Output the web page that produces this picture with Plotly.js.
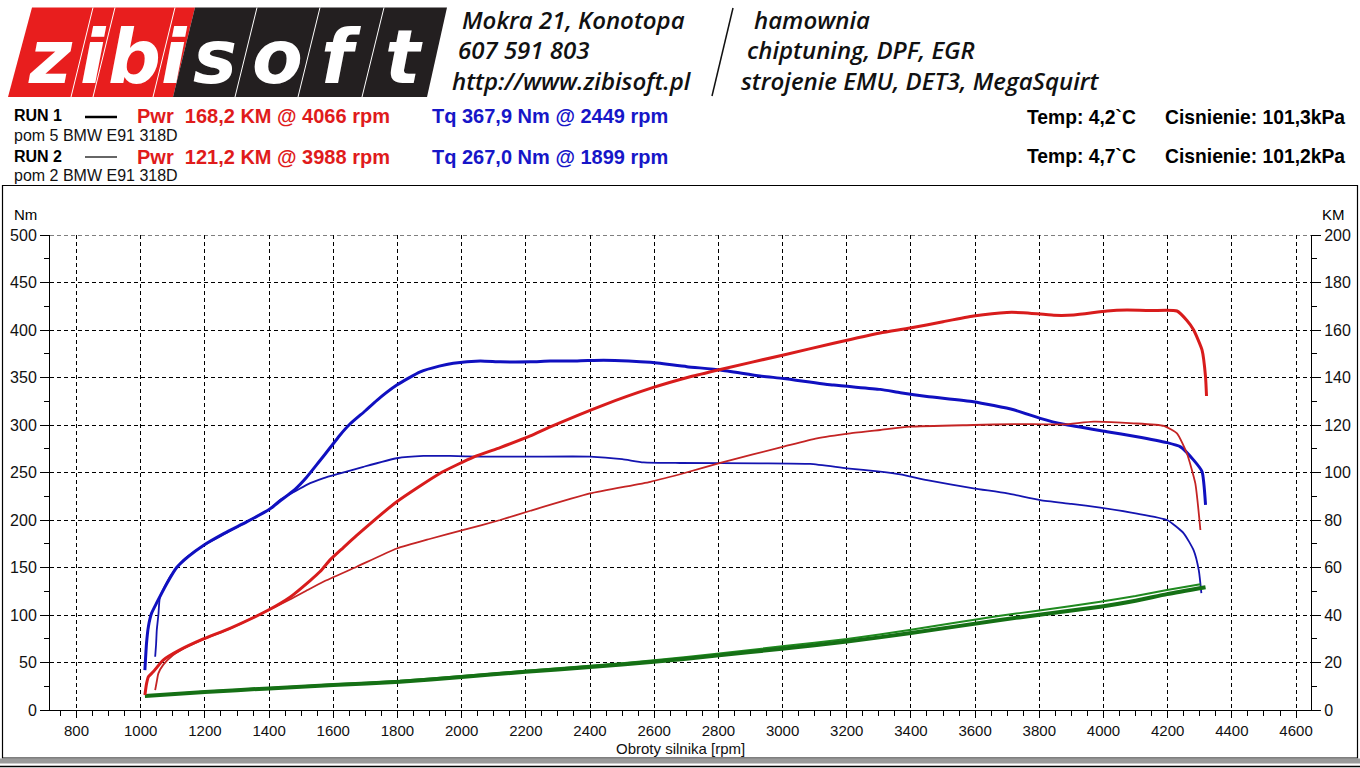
<!DOCTYPE html>
<html><head><meta charset="utf-8">
<script src="https://cdn.plot.ly/plotly-3.0.1.min.js"></script>
<style>html,body{margin:0;padding:0;background:#fff}#chart{width:1360px;height:768px}</style>
</head><body><div id="chart"></div>
<script>
// ---- data ----
const rpmTq1 = [1013,1018,1024,1034,1050,1081,1112,1150,1194,1260,1330,1400,1434,1480,1517,1555,1590,1620,1652,1700,1736,1798,1871,1930,1974,2058,2120,2214,2276,2360,2442,2520,2588,2702,2806,2930,3003,3159,3304,3367,3450,3595,3720,3803,3876,4011,4100,4198,4240,4281,4307,4318];
const tq1 = [42,70,88,102,113,133,150,162,173,186,198,211,220,232,245,261,276,289,301,315,326,342,356,362,365,367.4,366.5,366.5,367.4,367.5,368.2,367.5,366,361.4,358,351.6,349,342,337.5,334,330,324.5,316,307,300.7,293,288,281.4,277,263,251,216];

const rpmTq2 = [1045,1048,1050,1055,1060,1091,1133,1195,1260,1330,1400,1434,1480,1517,1570,1621,1694,1798,1881,1964,2058,2214,2400,2500,2567,2680,2930,3086,3200,3304,3367,3450,3595,3700,3803,3900,3990,4100,4198,4250,4281,4297,4305];
const tq2 = [56,70,84,100,119,140,158,173,185,198,211,221,230,237,244,249,256,265,267.4,267.4,266.7,266.7,266.7,264,260.7,260,259.7,259,254.4,250.9,248,242,233.4,228,221,217,213,207,200,186,168,147,123];

const rpmPw1 = [1013,1018,1024,1039,1070,1122,1195,1278,1398,1465,1528,1559,1590,1630,1673,1798,1933,2037,2120,2214,2276,2442,2588,2712,2806,3003,3159,3304,3397,3500,3595,3699,3750,3845,3907,4011,4073,4150,4229,4260,4281,4307,4318,4321];
const pw1 = [6.3,11,14,16.1,21,25.3,29.9,34.4,42.1,47.5,54.5,58.3,63.2,68.2,73.5,87.7,99.7,106.5,110.5,115.4,119.2,128.4,135.4,140.3,143.4,149.5,154.4,158.7,160.8,163.5,165.9,167.4,167.3,166.2,166.3,168,168.4,168.2,168,164,160,151.6,140.3,132.2];

const rpmPw2 = [1045,1050,1055,1070,1100,1122,1195,1278,1398,1465,1520,1569,1673,1798,1900,2006,2120,2214,2400,2588,2700,2806,3003,3107,3211,3304,3397,3595,3720,3876,3969,4094,4188,4229,4260,4286,4302];
const pw2 = [8.4,12,15.4,19,23,25,29.7,34.2,42,46.5,50.5,54,60.3,68,72,75.8,80,83.9,91.2,96.1,100,104.1,110.9,114.4,116.5,117.9,119.3,120,120.4,120.3,121.4,120.7,119.6,116.5,108,95.5,75.8];

const rpmLoss1 = [1013,1200,1400,1600,1808,2000,2199,2400,2599,2802,2998,3201,3400,3678,3800,3990,4100,4198,4318];
const loss1 = [5.9,7.6,9.1,10.5,11.9,13.9,16.1,18.1,20.3,23.0,25.8,28.8,32.4,37.9,40.1,43.5,46.0,48.8,51.7];
const rpmLoss2 = [1045,1200,1400,1600,1808,2000,2199,2400,2599,2802,2998,3201,3400,3678,3800,3990,4100,4198,4302];
const loss2 = [6.2,7.8,9.3,10.8,12.3,14.3,16.5,18.6,20.9,23.8,26.8,29.9,33.8,39.7,41.9,45.6,48.0,50.5,52.9];

const xTickStep = 200, yNmStep = 50, yKmStep = 20;
const run1Title = 'RUN 1', run2Title = 'RUN 2';
const run1Car = 'pom 5 BMW E91 318D', run2Car = 'pom 2 BMW E91 318D';
const run1Pwr = 'Pwr\u00a0 168,2 KM @ 4066 rpm', run2Pwr = 'Pwr\u00a0 121,2 KM @ 3988 rpm';
const run1Tq = 'Tq 367,9 Nm @ 2449 rpm', run2Tq = 'Tq 267,0 Nm @ 1899 rpm';
const run1Env = ['Temp: 4,2`C', 'Cisnienie: 101,3kPa'];
const run2Env = ['Temp: 4,7`C', 'Cisnienie: 101,2kPa'];
const logoLetters = ['z','i','b','i','s','o','f','t'];
const addrLines = ['Mokra 21, Konotopa', '607 591 803', 'http://www.zibisoft.pl'];
const serviceLines = ['hamownia', 'chiptuning, DPF, EGR', 'strojenie EMU, DET3, MegaSquirt'];

// ---- layout helpers (pixel -> paper) ----
const ML = 50, MR = 49, MT = 235, MB = 58, FW = 1360, FH = 768;
const PW = FW - ML - MR, PH = FH - MT - MB;
const px = x => (x - ML) / PW;
const py = y => (FH - MB - y) / PH;

const AR = 'Liberation Sans, Arial, sans-serif';
const RED = '#e01b1b', BLUE = '#1616c8';

const traces = [
  {x: rpmLoss2, y: loss2, yaxis: 'y2', mode: 'lines', line: {color: '#1f8a1f', width: 2, shape: 'spline', smoothing: 0.6}, hoverinfo: 'skip'},
  {x: rpmLoss1, y: loss1, yaxis: 'y2', mode: 'lines', line: {color: '#157015', width: 4, shape: 'spline', smoothing: 0.6}, hoverinfo: 'skip'},
  {x: rpmTq2, y: tq2, yaxis: 'y', mode: 'lines', line: {color: '#1414b0', width: 1.8, shape: 'spline', smoothing: 0.5}},
  {x: rpmPw2, y: pw2, yaxis: 'y2', mode: 'lines', line: {color: '#c42424', width: 1.8, shape: 'spline', smoothing: 0.5}},
  {x: rpmTq1, y: tq1, yaxis: 'y', mode: 'lines', line: {color: '#1010c0', width: 3, shape: 'spline', smoothing: 0.5}},
  {x: rpmPw1, y: pw1, yaxis: 'y2', mode: 'lines', line: {color: '#d81c1c', width: 3, shape: 'spline', smoothing: 0.5}}
];

const shapes = [];
const ann = [];
function pathPx(pts) {
  return 'M ' + pts.map(p => px(p[0]) + ',' + py(p[1])).join(' L ') + ' Z';
}
function linePx(x0, y0, x1, y1, color, width) {
  shapes.push({type: 'line', xref: 'paper', yref: 'paper', x0: px(x0), y0: py(y0), x1: px(x1), y1: py(y1), line: {color: color, width: width}});
}
function textPx(t, x, y, font, anchor) {
  ann.push({text: t, xref: 'paper', yref: 'paper', x: px(x), y: py(y), xanchor: anchor || 'left', yanchor: 'middle', showarrow: false, font: font});
}

// logo blocks
shapes.push({type: 'path', xref: 'paper', yref: 'paper', path: pathPx([[32,7.5],[195,7.5],[173,97],[8,97]]), fillcolor: '#e81e1e', line: {width: 0}});
shapes.push({type: 'path', xref: 'paper', yref: 'paper', path: pathPx([[195,7.5],[447,7.5],[427,97],[173,97]]), fillcolor: '#231f20', line: {width: 0}});
[93,115,175,257,320,384].forEach(t => linePx(t, 7.5, t - 22, 97, '#ffffff', 1));
const cellCenters = [50, 93, 134, 174, 215, 277, 341, 404];
logoLetters.forEach((l, i) => textPx(l, cellCenters[i], 57, {family: 'DejaVu Sans', size: 74, color: '#ffffff', weight: 700, style: 'italic'}, 'center'));

// header texts
const hf = {family: 'Open Sans, DejaVu Sans', size: 24, color: '#111', weight: 600, style: 'italic'};
textPx(addrLines[0], 460, 20, hf); textPx(addrLines[1], 456, 50, hf); textPx(addrLines[2], 450, 81, hf);
textPx(serviceLines[0], 752, 20, hf); textPx(serviceLines[1], 745, 50, hf); textPx(serviceLines[2], 739, 81, hf);
linePx(733, 8, 712, 96, '#111', 1.5);

// run rows
const bf = {family: AR, size: 16, color: '#000', weight: 700};
const nf = {family: AR, size: 16, color: '#111'};
const pf = {family: AR, size: 20, color: RED, weight: 700};
const tf = {family: AR, size: 20, color: BLUE, weight: 700};
textPx(run1Title, 12, 116, bf); linePx(85, 117, 117, 117, '#000', 2.5);
textPx(run1Pwr, 135, 116, pf);
textPx(run1Tq, 430, 116, tf);
textPx(run1Car, 12, 135, nf);
textPx(run2Title, 12, 157, bf); linePx(85, 157, 117, 157, '#000', 1.2);
textPx(run2Pwr, 135, 157, pf);
textPx(run2Tq, 430, 157, tf);
textPx(run2Car, 12, 176, nf);
const ef = {family: AR, size: 19.3, color: '#000', weight: 700};
textPx(run1Env[0], 1025, 117, ef); textPx(run1Env[1], 1163, 117, ef);
textPx(run2Env[0], 1025, 157, ef); textPx(run2Env[1], 1163, 157, ef);

// axis unit labels and x title
textPx('Nm', 12, 214, {family: AR, size: 15, color: '#000'});
textPx('KM', 1320, 214, {family: AR, size: 15, color: '#000'});
textPx('Obroty silnika [rpm]', 680, 748, {family: AR, size: 15, color: '#111'}, 'center');

// frame
shapes.push({type: 'rect', xref: 'paper', yref: 'paper', x0: px(2.5), y0: py(185.5), x1: px(1357.5), y1: py(758), line: {color: '#000', width: 1.2}, fillcolor: 'rgba(0,0,0,0)', layer: 'below'});
shapes.push({type: 'rect', xref: 'paper', yref: 'paper', x0: px(0), y0: py(758.5), x1: px(1360), y1: py(763.5), line: {width: 0}, fillcolor: '#9a9a9a'});
linePx(0, 766.5, 1360, 766.5, '#000', 1.5);
// top grid line at 500
shapes.push({type: 'line', xref: 'paper', yref: 'y', x0: 0, x1: 1, y0: 500, y1: 500, line: {color: '#000', width: 1, dash: '4px,3px'}});

const tickFont = {family: AR, size: 16, color: '#111'};
const layout = {
  width: FW, height: FH,
  margin: {l: ML, r: MR, t: MT, b: MB, pad: 0},
  paper_bgcolor: '#fff', plot_bgcolor: '#fff',
  showlegend: false,
  xaxis: {range: [717.3, 4646.6], tick0: 0, dtick: xTickStep, ticks: 'outside', ticklen: 7, tickwidth: 1, tickcolor: '#000',
    showline: true, linecolor: '#000', linewidth: 1, showgrid: true, gridcolor: '#000', gridwidth: 1, griddash: '4px,3px',
    zeroline: false, tickfont: {family: AR, size: 15, color: '#111'}, fixedrange: true, automargin: false,
    minor: {tick0: 0, dtick: 50, ticks: 'outside', ticklen: 5, tickcolor: '#000', showgrid: false}},
  yaxis: {range: [0, 500], tick0: 0, dtick: yNmStep, ticks: 'outside', ticklen: 9, tickwidth: 1, tickcolor: '#000',
    showline: true, linecolor: '#000', linewidth: 1, showgrid: true, gridcolor: '#000', gridwidth: 1, griddash: '4px,3px',
    zeroline: false, tickfont: tickFont, fixedrange: true, automargin: false,
    minor: {tick0: 0, dtick: 25, ticks: 'outside', ticklen: 5, tickcolor: '#000', showgrid: false}},
  yaxis2: {range: [0, 200], tick0: 0, dtick: yKmStep, overlaying: 'y', side: 'right', ticks: 'outside', ticklen: 9, tickwidth: 1, tickcolor: '#000',
    showline: true, linecolor: '#000', linewidth: 1, showgrid: false, zeroline: false, tickfont: tickFont, fixedrange: true, automargin: false,
    minor: {tick0: 0, dtick: 10, ticks: 'outside', ticklen: 5, tickcolor: '#000', showgrid: false}},
  shapes: shapes,
  annotations: ann
};
Plotly.newPlot('chart', traces, layout, {staticPlot: true, displayModeBar: false});
</script>
</body></html>
